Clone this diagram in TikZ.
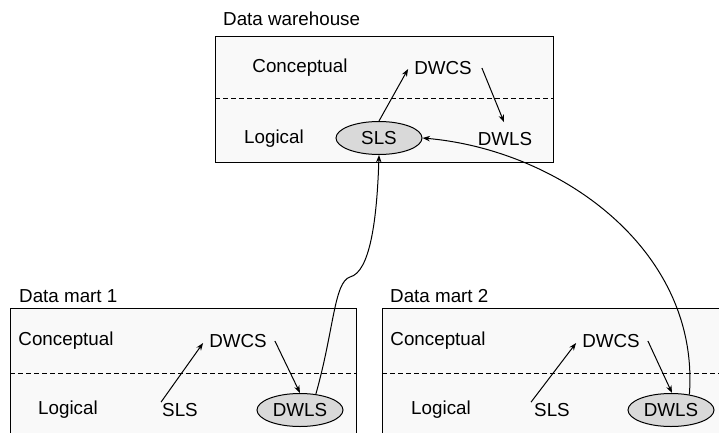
\documentclass[tikz,border=0pt]{standalone}
\usepackage{fontspec}
\setmainfont{Liberation Sans}
\usetikzlibrary{shapes.geometric,arrows.meta,calc}
\tikzset{
  lbl/.style={font=\fontsize{18.8}{20}\selectfont, inner sep=2pt},
  title/.style={lbl, anchor=west},
  panel/.style={draw=black, line width=1pt, fill=gray!5},
  sep/.style={line width=0.8pt, dash pattern=on 5pt off 3pt},
  oval/.style={lbl, ellipse, draw=black, line width=1pt, fill=gray!30, minimum width=86pt, minimum height=33pt, inner sep=0pt},
  link/.style={line width=1pt, -{Stealth[length=7.5pt,width=5.5pt]}},
}
\begin{document}
\begin{tikzpicture}[x=1pt,y=-1pt]
\useasboundingbox (0,0) rectangle (719,433);
\begin{scope}
\clip (0,0) rectangle (719,433);

% data warehouse
\node[title] (dwt) at (221,19) {Data warehouse};
\draw[panel] (215,37) rectangle (553,162);
\draw[sep] (215,98) -- (553,98);
\node[lbl] (wc) at (300,68) {Conceptual};
\node[lbl] (wl) at (274,139) {Logical};
\node[lbl] (wdwcs) at (443,68) {DWCS};
\node[oval] (wsls) at (379,138) {SLS};
\node[lbl] (wdwls) at (505,139) {DWLS};
\draw[link] (wsls.north) -- ($(wdwcs.west)+(-4,1)$);
\draw[link] ($(wdwcs.east)+(8,0)$) -- ($(wdwls.north)+(-1,-8)$);

% data mart 1
\node[title] (m1t) at (17,296) {Data mart 1};
\draw[panel] (10,308) rectangle (356,440);
\draw[sep] (10,373) -- (356,373);
\node[lbl] (ac) at (66,341) {Conceptual};
\node[lbl] (al) at (68,410) {Logical};
\node[lbl] (adwcs) at (238,341) {DWCS};
\node[lbl] (asls) at (180,410) {SLS};
\node[oval] (adwls) at (300,410) {DWLS};
\draw[link] ($(asls.north)+(-19,1)$) -- ($(adwcs.west)+(-4,2)$);
\draw[link] ($(adwcs.east)+(6,0)$) -- ($(adwls.north)+(0,0)$);

% data mart 2
\node[title] (m2t) at (388,296) {Data mart 2};
\draw[panel] (382,308) rectangle (730,440);
\draw[sep] (382,373) -- (730,373);
\node[lbl] (bc) at (438,341) {Conceptual};
\node[lbl] (bl) at (441,410) {Logical};
\node[lbl] (bdwcs) at (611,341) {DWCS};
\node[lbl] (bsls) at (552,410) {SLS};
\node[oval] (bdwls) at (671,410) {DWLS};
\draw[link] ($(bsls.north)+(-21,1)$) -- ($(bdwcs.west)+(-4,2)$);
\draw[link] ($(bdwcs.east)+(6,0)$) -- ($(bdwls.north)+(1,0)$);

% mappings from the marts to the warehouse source schema
\draw[link] (adwls.45) .. controls (334,330) and (334,282) .. (350,277)
  .. controls (370,272) and (377,220) .. (wsls.south);
\draw[link] (bdwls.40) .. controls (700,250) and (560,150) .. (wsls.east);
\end{scope}
\end{tikzpicture}
\end{document}
